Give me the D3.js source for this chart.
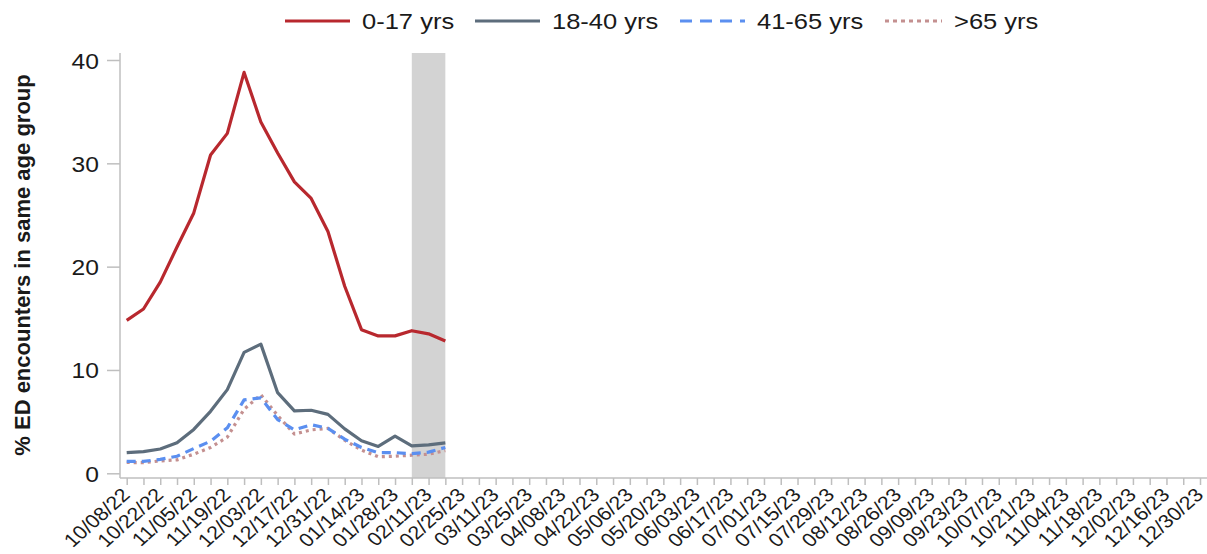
<!DOCTYPE html>
<html><head><meta charset="utf-8">
<script src="https://cdn.jsdelivr.net/npm/d3@7"></script>
<style>
html,body{margin:0;padding:0;background:#fff;}
text{font-family:"Liberation Sans",Arial,sans-serif;fill:#1a1a1a;}
</style></head>
<body>
<svg id="c" width="1207" height="554"></svg>
<script>
// ---- data ----
const weeks = ["10/08/22","10/15/22","10/22/22","10/29/22","11/05/22","11/12/22","11/19/22","11/26/22","12/03/22","12/10/22","12/17/22","12/24/22","12/31/22",
"01/07/23","01/14/23","01/21/23","01/28/23","02/04/23","02/11/23","02/18/23","02/25/23","03/04/23","03/11/23","03/18/23","03/25/23",
"04/01/23","04/08/23","04/15/23","04/22/23","04/29/23","05/06/23","05/13/23","05/20/23","05/27/23","06/03/23","06/10/23","06/17/23","06/24/23",
"07/01/23","07/08/23","07/15/23","07/22/23","07/29/23","08/05/23","08/12/23","08/19/23","08/26/23","09/02/23","09/09/23","09/16/23","09/23/23","09/30/23",
"10/07/23","10/14/23","10/21/23","10/28/23","11/04/23","11/11/23","11/18/23","11/25/23","12/02/23","12/09/23","12/16/23","12/23/23","12/30/23"];
const tickLabels = weeks.filter((d,i)=>i%2===0);
const dataWeeks = weeks.slice(0,20);
const age0_17  = [14.8,15.9,18.5,21.9,25.2,30.8,32.9,38.8,34.0,31.0,28.2,26.6,23.4,18.1,13.9,13.3,13.3,13.8,13.5,12.8];
const age18_40 = [2.0,2.1,2.35,2.95,4.25,6.0,8.1,11.7,12.5,7.8,6.05,6.1,5.7,4.3,3.15,2.6,3.6,2.65,2.75,2.95];
const age41_65 = [1.15,1.15,1.35,1.65,2.4,3.1,4.4,7.1,7.3,5.2,4.2,4.7,4.35,3.3,2.5,2.0,2.0,1.9,2.05,2.5];
const age65p   = [1.05,1.03,1.2,1.3,1.85,2.5,3.5,6.2,7.6,5.6,3.8,4.2,4.35,3.2,2.25,1.6,1.65,1.75,1.85,2.2];
const yTicks = [0,10,20,30,40];
const shadeRange = ["02/04/23","02/18/23"];
const seriesNames = ["0-17 yrs","18-40 yrs","41-65 yrs",">65 yrs"];

const series = [
  {name:seriesNames[0], values:age0_17,  color:"#b8282e", dash:null,  w:3.2},
  {name:seriesNames[1], values:age18_40, color:"#5d6d7c", dash:null,  w:3.2},
  {name:seriesNames[2], values:age41_65, color:"#5b8ff0", dash:"9,6", w:3.2},
  {name:seriesNames[3], values:age65p,   color:"#c49090", dash:"3,4", w:3.2}
];

const SX = 1.12; // horizontal stretch of text
const svg = d3.select("#c");
const x = d3.scalePoint().domain(weeks).range([126.7, 1200]);
const y = d3.scaleLinear().domain([0,40]).range([473.3, 60]);
const axisY = 478, axisX = 120, topY = 53;

// shaded band
svg.append("rect")
  .attr("x", x(shadeRange[0])).attr("y", topY)
  .attr("width", x(shadeRange[1]) - x(shadeRange[0]))
  .attr("height", axisY - topY)
  .attr("fill", "#d3d3d3");

// y axis
const ya = svg.append("g").attr("transform", `translate(${axisX},0)`)
  .call(d3.axisLeft(y).tickValues(yTicks).tickSize(13).tickPadding(0).tickFormat(d3.format("d")));
ya.select(".domain").attr("d", `M0,${topY}V${axisY}`).attr("stroke","#bfbfbf").attr("stroke-width",1.5);
ya.selectAll(".tick line").attr("stroke","#bfbfbf").attr("stroke-width",1.5);
ya.selectAll(".tick text").attr("font-size",22).attr("x",null).attr("dy",null)
  .attr("transform","translate(-21,8) scale(" + SX + ",1)").attr("text-anchor","end").style("fill","#1a1a1a");

// x axis
const xa = svg.append("g").attr("transform", `translate(0,${axisY})`)
  .call(d3.axisBottom(x).tickSize(7).tickFormat(d => tickLabels.includes(d) ? d : ""));
xa.select(".domain").attr("d", `M${axisX},0H1207`).attr("stroke","#bfbfbf").attr("stroke-width",1.5);
xa.selectAll(".tick line").attr("stroke","#bfbfbf").attr("stroke-width",1.5);
xa.selectAll(".tick text").attr("font-size",19).attr("y",null).attr("dy",null)
  .attr("text-anchor","end")
  .attr("transform", `translate(4,18) scale(${SX},1) rotate(-45)`)
  .style("fill","#1a1a1a");

// lines
const line = d3.line().x((d,i)=>x(dataWeeks[i])).y(d=>y(d));
series.slice().reverse().forEach(s=>{
  svg.append("path").datum(s.values)
    .attr("d", line).attr("fill","none")
    .attr("stroke", s.color).attr("stroke-width", s.w)
    .attr("stroke-linejoin","round")
    .attr("stroke-dasharray", s.dash);
});

// y title
svg.append("text")
  .attr("transform","translate(30,265) rotate(-90)")
  .attr("text-anchor","middle").attr("font-size",22).attr("font-weight","bold")
  .text("% ED encounters in same age group");

// legend
const legX = [285, 475, 680, 885];
const legLen = [65, 65, 65, 57];
const lg = svg.append("g");
series.forEach((s,i)=>{
  lg.append("line").attr("x1",legX[i]).attr("x2",legX[i]+legLen[i])
    .attr("y1",21).attr("y2",21).attr("stroke",s.color).attr("stroke-width",3)
    .attr("stroke-dasharray", s.dash ? (i===2 ? "12,8" : "4,4") : null);
  lg.append("text").attr("transform",`translate(${legX[i]+legLen[i]+12},29) scale(${SX+0.04},1)`)
    .attr("font-size",22).text(s.name);
});
</script>
</body></html>
